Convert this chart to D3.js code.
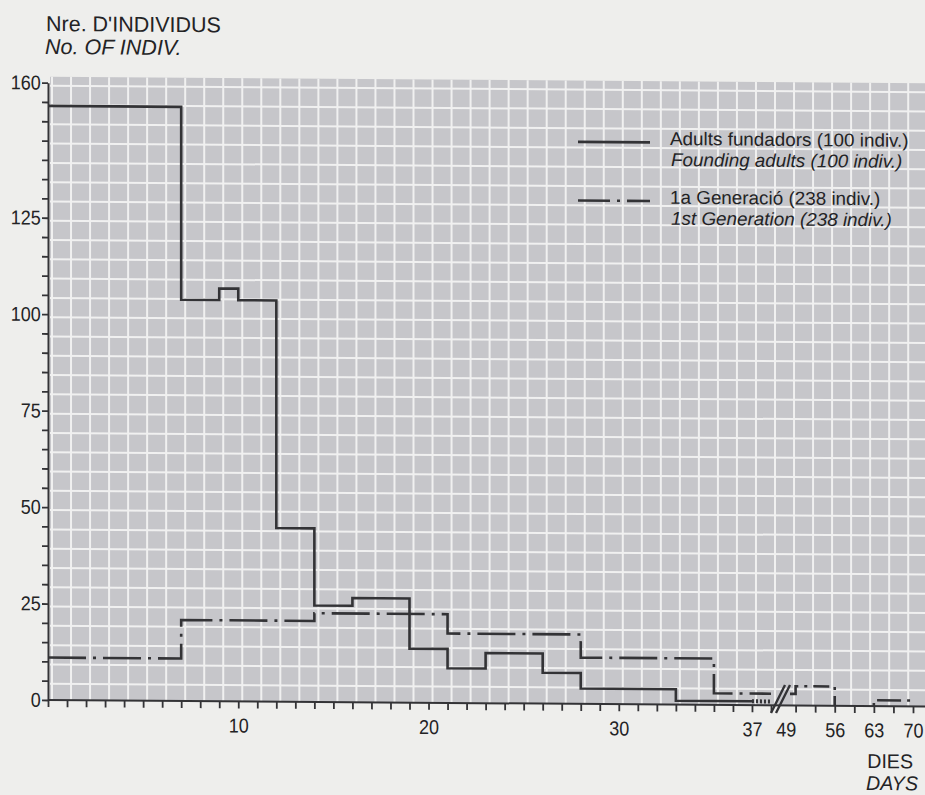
<!DOCTYPE html>
<html>
<head>
<meta charset="utf-8">
<script src="https://cdn.jsdelivr.net/npm/d3@7"></script>
<style>
  body { margin: 0; background: #eeeeec; }
  svg { display: block; font-family: "Liberation Sans", Arial, Helvetica, sans-serif; }
</style>
</head>
<body>
<svg></svg>
<script>
const svgWidth = 925,
  svgHeight = 795,
  plotLeft = 48,
  plotBottom = 700,
  plotTop = 82.7,
  tilt = 0.42,
  pageColor = '#eeeeec',
  panelColor = '#c6c6ca',
  gridColor = '#f0f0f0',
  inkColor = '#333336',
  textColor = '#232325',
  tickFont = 20,
  tickSqueeze = 0.9,
  legendFont = 18.5,
  legendSqueeze = 1.02,
  titleFont = 21.5,
  daysFont = 20,
  daysSqueeze = 0.98

const founderDays = [0, 7, 9, 10, 12, 14, 16, 19, 21, 23, 26, 28, 33, 37]
const founderCounts = [154, 104, 107, 104, 45, 25, 27, 14, 9, 13, 8, 4, 1, 1]

const gen1Days = [0, 7, 14, 21, 28, 35, 38]
const gen1Counts = [11, 21, 23, 18, 12, 3, 3]
const gen1LateDays = [48, 49, 56]
const gen1LateCounts = [3, 5, 0]
const gen1EndDays = [63, 63, 70]
const gen1EndCounts = [0, 1.5, 1.5]

// little hatched piece just before the axis break
const hatchDays = [37, 38]
const hatchCounts = [1, 1]

const dayTicks = d3.range(0, 39).concat([49, 52.5, 56, 59.5, 63, 66.5, 70])
const dayLabels = [10, 20, 30, 37, 49, 56, 63, 70]
const countTicks = d3.range(0, 161, 5)
const countLabels = [0, 25, 50, 75, 100, 125, 160]

const legendMain = ['Adults fundadors (100 indiv.)', '1a Generació (238 indiv.)']
const legendSub = ['Founding adults (100 indiv.)', '1st Generation (238 indiv.)']

const svg = d3.select('svg')
  .attr('width', svgWidth)
  .attr('height', svgHeight)

svg.append('rect')
  .attr('width', svgWidth)
  .attr('height', svgHeight)
  .attr('fill', pageColor)

// the scanned page is a little sheared, the right side sits lower
const chart = svg.append('g')
  .attr('transform', `translate(${plotLeft},${plotBottom}) skewY(${tilt}) translate(${-plotLeft},${-plotBottom})`)

// time axis is broken between day 38 and day 48
const x = d3.scaleLinear()
  .domain([0, 38, 48, 70])
  .range([plotLeft, 771, 790, 913])

const y = d3.scaleLinear()
  .domain([0, 160])
  .range([plotBottom, plotTop])

// the printed type is a bit narrower than Liberation Sans, so squeeze it
function addLabel(px, py, str, size, squeeze, italic, anchor) {
  return chart.append('text')
    .attr('transform', `translate(${px},${py}) scale(${squeeze},1)`)
    .attr('font-size', size)
    .attr('font-style', italic ? 'italic' : null)
    .attr('text-anchor', anchor || 'start')
    .attr('fill', textColor)
    .text(str)
}

//grey squared paper behind the plot
const cellW = x(1) - x(0)
const panelTop = y(160) - 6

chart.append('rect')
  .attr('x', x(0) + 2)
  .attr('y', panelTop)
  .attr('width', svgWidth - x(0) + 20)
  .attr('height', plotBottom - panelTop)
  .attr('fill', panelColor)

const grid = chart.append('g')
  .attr('stroke', gridColor)
  .attr('stroke-width', 2)

grid.selectAll('.vgrid')
  .data(d3.range(x(0) + 4, svgWidth + 20, cellW))
  .enter().append('line')
  .classed('vgrid', true)
  .attr('x1', d => d)
  .attr('x2', d => d)
  .attr('y1', panelTop)
  .attr('y2', plotBottom)

grid.selectAll('.hgrid')
  .data(countTicks.filter(d => d > 0))
  .enter().append('line')
  .classed('hgrid', true)
  .attr('x1', x(0) + 2)
  .attr('x2', svgWidth + 20)
  .attr('y1', d => y(d) + 3)
  .attr('y2', d => y(d) + 3)

//axes
const xAxis = d3.axisBottom(x)
  .tickValues(dayTicks)
  .tickFormat(d => dayLabels.includes(d) ? d : '')
  .tickSize(7)
  .tickPadding(10)
  .tickSizeOuter(0)

const gx = chart.append('g')
  .attr('transform', `translate(0,${plotBottom})`)
  .call(xAxis)
  .attr('font-family', null)
  .attr('font-size', tickFont)

gx.select('.domain').remove()
gx.append('line')
  .attr('x1', x(0))
  .attr('x2', svgWidth + 20)
  .attr('stroke', inkColor)
  .attr('stroke-width', 2)
gx.selectAll('.tick line')
  .attr('stroke', inkColor)
  .attr('stroke-width', 1.8)
gx.selectAll('.tick text')
  .attr('fill', textColor)
  .attr('transform', `scale(${tickSqueeze},1)`)
  .attr('dx', d => d === 49 ? -11 : 0)

const yAxis = d3.axisLeft(y)
  .tickValues(countTicks)
  .tickFormat(d => countLabels.includes(d) ? d : '')
  .tickSize(6)
  .tickPadding(2)
  .tickSizeOuter(0)

const gy = chart.append('g')
  .attr('transform', `translate(${plotLeft},0)`)
  .call(yAxis)
  .attr('font-family', null)
  .attr('font-size', tickFont)

gy.select('.domain')
  .attr('stroke', inkColor)
  .attr('stroke-width', 2)
gy.selectAll('.tick line')
  .attr('stroke', inkColor)
  .attr('stroke-width', 1.8)
gy.selectAll('.tick text')
  .attr('fill', textColor)
  .attr('transform', `scale(${tickSqueeze},1)`)

// break marks on the time axis
const breakX = (x(38) + x(48)) / 2
chart.selectAll('.break')
  .data([-2.5, 2.5])
  .enter().append('line')
  .classed('break', true)
  .attr('x1', d => breakX + d - 7)
  .attr('x2', d => breakX + d + 7)
  .attr('y1', y(-2))
  .attr('y2', y(5.3))
  .attr('stroke', inkColor)
  .attr('stroke-width', 2.4)

//step lines
const toPoints = (days, counts) => days.map((d, i) => [d, counts[i]])
const stepLine = d3.line()
  .x(d => x(d[0]))
  .y(d => y(d[1]))
  .curve(d3.curveStepAfter)

const series = [
  {points: toPoints(founderDays, founderCounts), dash: null, width: 2.6},
  {points: toPoints(gen1Days, gen1Counts), dash: '38 7 3 7', width: 2.6},
  {points: toPoints(gen1LateDays, gen1LateCounts), dash: '16 6 3 6', width: 2.6},
  {points: toPoints(gen1EndDays, gen1EndCounts), dash: '3 6 24 6 3 3', width: 2.6},
  {points: toPoints(hatchDays, hatchCounts), dash: '2 2', width: 4}
]

chart.selectAll('.series')
  .data(series)
  .enter().append('path')
  .classed('series', true)
  .attr('d', d => stepLine(d.points))
  .attr('fill', 'none')
  .attr('stroke', inkColor)
  .attr('stroke-width', d => d.width)
  .attr('stroke-dasharray', d => d.dash)

//legend
const legendLineY = [138, 196.6]

chart.selectAll('.legend-line')
  .data(legendMain)
  .enter().append('line')
  .classed('legend-line', true)
  .attr('x1', 578)
  .attr('x2', 650)
  .attr('y1', (d, i) => legendLineY[i])
  .attr('y2', (d, i) => legendLineY[i])
  .attr('stroke', inkColor)
  .attr('stroke-width', 2.6)
  .attr('stroke-dasharray', (d, i) => i === 0 ? null : '32 7 3 7')

legendMain.forEach((d, i) => {
  addLabel(670, legendLineY[i] + 2.5, d, legendFont, legendSqueeze, false)
  addLabel(671, legendLineY[i] + 23.5, legendSub[i], legendFont, legendSqueeze, true)
})

//axis titles
addLabel(46, 31, "Nre. D'INDIVIDUS", titleFont, 1, false)
addLabel(45, 54, 'No. OF INDIV.', titleFont, 1, true)
addLabel(913, 762, 'DIES', daysFont, daysSqueeze, false, 'end')
addLabel(918, 784, 'DAYS', daysFont, daysSqueeze, true, 'end')
</script>
</body>
</html>
